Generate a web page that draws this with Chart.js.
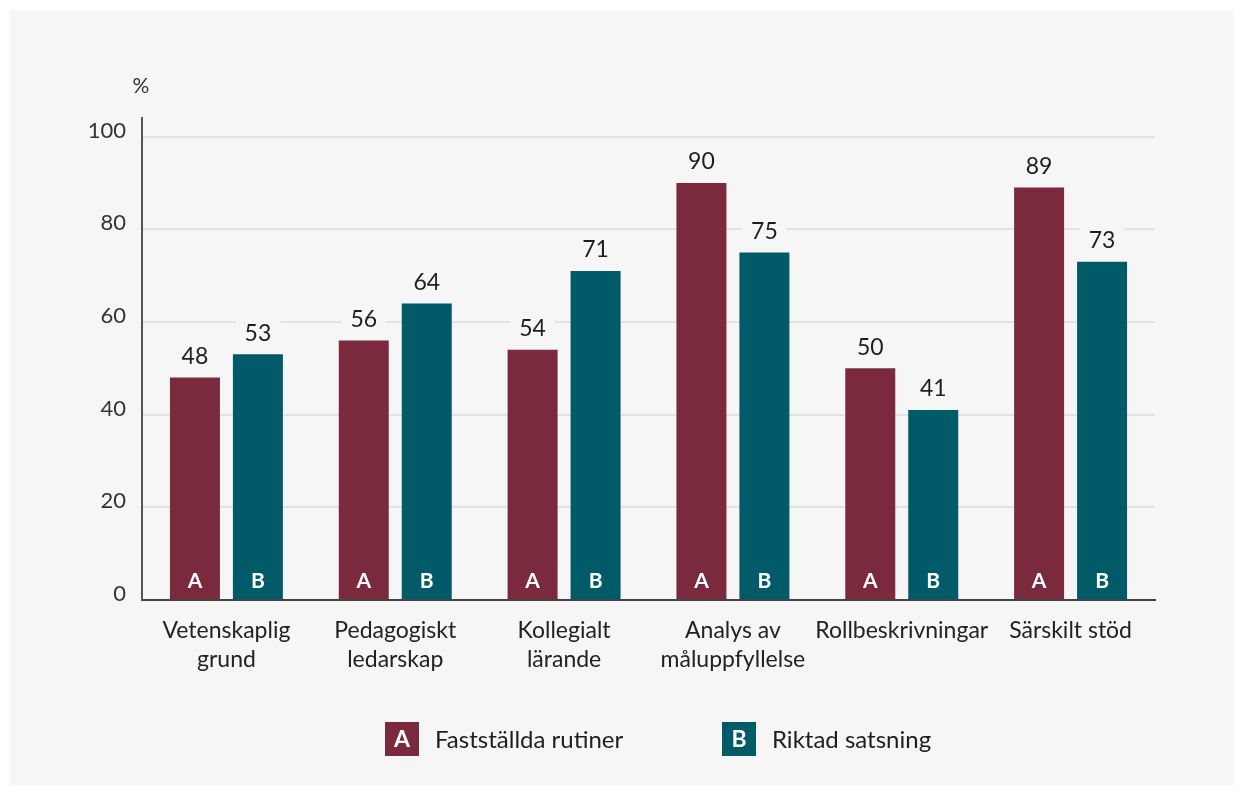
<!DOCTYPE html>
<html>
<head>
<meta charset="utf-8">
<script src="https://cdn.jsdelivr.net/npm/chart.js@4/dist/chart.umd.min.js"></script>
<style>
html,body{margin:0;padding:0;background:#fff;}
#wrap{width:1244px;height:795px;position:relative;}
</style>
</head>
<body>
<div id="wrap"><canvas id="c" width="1244" height="795"></canvas></div>
<script>
const categories = [
  ["Vetenskaplig", "grund"],
  ["Pedagogiskt", "ledarskap"],
  ["Kollegialt", "lärande"],
  ["Analys av", "måluppfyllelse"],
  ["Rollbeskrivningar"],
  ["Särskilt stöd"]
];
const seriesNames = ["Fastställda rutiner", "Riktad satsning"];
const seriesLetters = ["A", "B"];
const seriesA = [48, 56, 54, 90, 50, 89];
const seriesB = [53, 64, 71, 75, 41, 73];
const yTicks = [0, 20, 40, 60, 80, 100];
const yUnit = "%";

const colors = ["#7b2a3e", "#005a68"];
const BG = "#f6f6f6";
const FONT = "Lato, 'Liberation Sans', sans-serif";

const framePlugin = {
  id: "frame",
  beforeDraw(chart) {
    const ctx = chart.ctx;
    ctx.save();
    ctx.fillStyle = "#ffffff";
    ctx.fillRect(0, 0, chart.width, chart.height);
    ctx.fillStyle = BG;
    ctx.fillRect(10, 10, chart.width - 20, chart.height - 20);
    ctx.restore();
  }
};

const labelsPlugin = {
  id: "labels",
  afterDatasetsDraw(chart) {
    const ctx = chart.ctx;
    ctx.save();
    chart.data.datasets.forEach((ds, di) => {
      const meta = chart.getDatasetMeta(di);
      meta.data.forEach((bar, i) => {
        const txt = String(ds.data[i]);
        ctx.font = "23px " + FONT;
        const w = ctx.measureText(txt).width;
        const cy = bar.y - 21;
        ctx.fillStyle = BG;
        ctx.fillRect(bar.x - w / 2 - 9, cy - 13, w + 18, 26);
        ctx.fillStyle = "#1e1e1e";
        ctx.textAlign = "center";
        ctx.textBaseline = "middle";
        ctx.fillText(txt, bar.x, cy);
        ctx.font = "bold 21px " + FONT;
        ctx.fillStyle = "#ffffff";
        ctx.fillText(seriesLetters[di], bar.x, bar.base - 18);
      });
    });
    ctx.font = "21px " + FONT;
    ctx.fillStyle = "#333";
    ctx.textAlign = "center";
    ctx.textBaseline = "middle";
    ctx.fillText(yUnit, 141, 86);
    const legend = [
      {sx: 385, tx: 435},
      {sx: 722, tx: 772}
    ];
    chart.data.datasets.forEach((ds, di) => {
      const L = legend[di];
      const sy = 722, s = 34;
      ctx.fillStyle = colors[di];
      ctx.fillRect(L.sx, sy, s, s);
      ctx.fillStyle = "#fff";
      ctx.font = "bold 23px " + FONT;
      ctx.textAlign = "center";
      ctx.fillText(seriesLetters[di], L.sx + s / 2, sy + s / 2 + 1);
      ctx.fillStyle = "#1e1e1e";
      ctx.textAlign = "left";
      ctx.font = "24px " + FONT;
      ctx.fillText(ds.label, L.tx, sy + s / 2 + 1);
    });
    ctx.restore();
  }
};

new Chart(document.getElementById("c"), {
  type: "bar",
  data: {
    labels: categories,
    datasets: [
      {label: seriesNames[0], data: seriesA, backgroundColor: colors[0]},
      {label: seriesNames[1], data: seriesB, backgroundColor: colors[1]}
    ]
  },
  options: {
    responsive: false,
    animation: false,
    devicePixelRatio: 1,
    layout: {padding: {left: 0, right: 89, top: 118, bottom: 115}},
    categoryPercentage: 0.746,
    barPercentage: 0.794,
    plugins: {legend: {display: false}, tooltip: {enabled: false}},
    scales: {
      x: {
        grid: {display: false, drawTicks: false},
        border: {display: true, color: "#444", width: 2},
        ticks: {
          font: {family: FONT, size: 23, lineHeight: 1.27},
          color: "#222",
          padding: 16,
          maxRotation: 0,
          autoSkip: false
        },
        afterFit(s) { s.height = 80; }
      },
      y: {
        min: 0,
        max: 104,
        afterBuildTicks(s) { s.ticks = yTicks.map(v => ({value: v})); },
        grid: {color: "#e3e3e3", lineWidth: 2, drawTicks: false},
        border: {display: true, color: "#555", width: 2},
        ticks: {
          font: {family: FONT, size: 22},
          color: "#333",
          padding: 16,
          labelOffset: -6
        },
        afterFit(s) { s.width = 142; }
      }
    }
  },
  plugins: [framePlugin, labelsPlugin]
});
</script>
</body>
</html>
